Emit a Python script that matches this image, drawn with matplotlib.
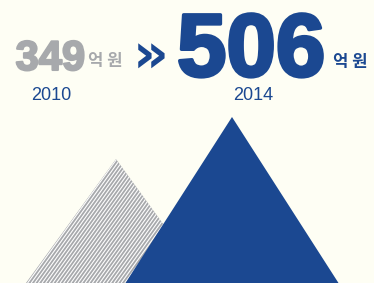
import numpy as np
import matplotlib.pyplot as plt
import matplotlib.patheffects as pe
from matplotlib.patches import Polygon
from matplotlib.collections import LineCollection

years = ['2010', '2014']
values = [349, 506]
unit = '억 원'

BG = '#fefef4'
BLUE = '#1b4891'
GRAY = '#a7a9ac'

W, H = 374, 283
fig = plt.figure(figsize=(W / 100, H / 100), dpi=100, facecolor=BG)
ax = fig.add_axes([0, 0, 1, 1])
ax.set_facecolor(BG)
ax.set_xlim(0, W)
ax.set_ylim(-114, 943)
ax.axis('off')

def fp(x, y):
    # pixel position -> figure fraction
    return x / W, 1 - y / H

# mountains: apex height = value
centers = [116, 232]
half = [90, 106.5]
base = ax.get_ylim()[0]

gx, bx = centers
tri_g = Polygon([(gx - half[0], base), (gx, values[0]), (gx + half[0], base)],
                closed=True, facecolor=GRAY, edgecolor='none', zorder=1)
ax.add_patch(tri_g)

# white diagonal stripes on the grey mountain
segs = []
for x0 in np.arange(-300, 400, 3.6):
    segs.append([(x0, base), (x0 + 160, base + 160 / 0.72 * 3.74)])
lc = LineCollection(segs, colors='white', linewidths=0.8, zorder=2)
lc.set_clip_path(tri_g)
ax.add_collection(lc)

tri_b = Polygon([(bx - half[1], base), (bx, values[1]), (bx + half[1], base)],
                closed=True, facecolor=BLUE, edgecolor='none', zorder=3)
ax.add_patch(tri_b)

num = dict(family='Liberation Sans', fontweight='bold')
kor = dict(family=['Noto Sans CJK KR', 'DejaVu Sans'], fontweight='bold')

fig.text(*fp(85, 70), str(values[0]), color=GRAY, fontsize=30, ha='right',
         va='baseline', path_effects=[pe.withStroke(linewidth=1.5, foreground=GRAY)],
         **num)
fig.text(*fp(88, 66), unit, color=GRAY, fontsize=12, ha='left', va='baseline', **kor)
fig.text(*fp(151, 73), '»', color=BLUE, fontsize=40, ha='center', va='baseline',
         family='DejaVu Sans', fontweight='bold')
fig.text(*fp(177, 76), str(values[1]), color=BLUE, fontsize=64, ha='left',
         va='baseline', path_effects=[pe.withStroke(linewidth=2.5, foreground=BLUE)],
         **num)
fig.text(*fp(333, 67), unit, color=BLUE, fontsize=12, ha='left', va='baseline', **kor)

fig.text(*fp(51, 100), years[0], color=BLUE, fontsize=13, ha='center',
         va='baseline', family='Liberation Sans')
fig.text(*fp(253, 100), years[1], color=BLUE, fontsize=13, ha='center',
         va='baseline', family='Liberation Sans')

fig.savefig('out.png', dpi=100, facecolor=BG)
